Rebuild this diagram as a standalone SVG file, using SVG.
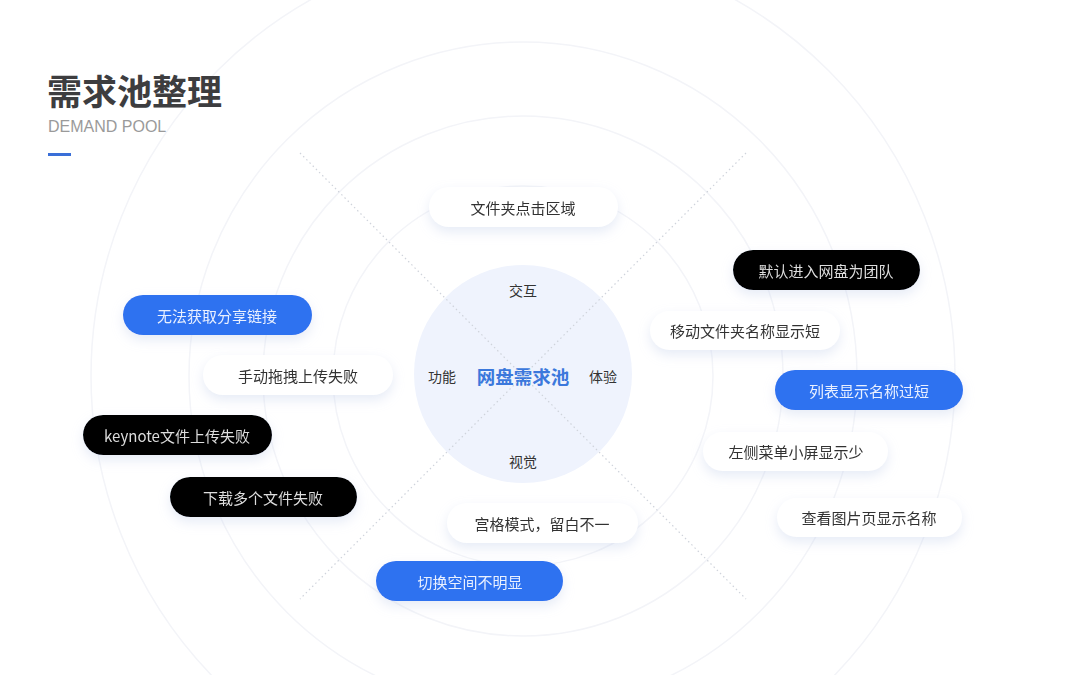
<svg xmlns="http://www.w3.org/2000/svg" width="1080" height="675" viewBox="0 0 1080 675">
<defs>
<filter id="sh" x="-20%" y="-50%" width="140%" height="220%">
<feDropShadow dx="0" dy="5" stdDeviation="6" flood-color="#b9c8e6" flood-opacity="0.35"/>
</filter>
<style>
.ring{fill:none;stroke:#f3f4f8;stroke-width:1.5}
.diag{stroke:#cfd3db;stroke-width:1.2;stroke-dasharray:1.5 3}
.pw{fill:#ffffff}
.pb{fill:#2e72f0}
.pk{fill:#000000}
.t{font-family:"Noto Sans CJK SC","Liberation Sans",sans-serif;font-size:15px;text-anchor:middle;dominant-baseline:central}
.tw{fill:#333333}
.tb{fill:#e9f0ff}
.tk{fill:#dddddd}
.lab{font-family:"Noto Sans CJK SC","Liberation Sans",sans-serif;font-size:14px;fill:#333333;text-anchor:middle;dominant-baseline:central}
</style>
</defs>
<rect width="1080" height="675" fill="#ffffff"/>
<g id="background">
<circle class="ring" cx="523" cy="376" r="190"/>
<circle class="ring" cx="523" cy="376" r="260"/>
<circle class="ring" cx="523" cy="376" r="334"/>
<circle class="ring" cx="523" cy="376" r="432"/>
</g>
<g id="title">
<text x="47" y="105" font-family="Noto Sans CJK SC,Liberation Sans,sans-serif" font-size="35" font-weight="bold" fill="#3d3d3f">需求池整理</text>
<text x="48" y="132" font-family="Liberation Sans,Arial,sans-serif" font-size="16" fill="#9a9a9a">DEMAND POOL</text>
<rect x="48" y="153" width="23" height="3" fill="#3a6fd8"/>
</g>
<g id="hub">
<circle cx="523" cy="374" r="109" fill="#eff3fd"/>
<text class="lab" x="523" y="290">交互</text>
<text class="lab" x="442" y="376">功能</text>
<text class="lab" x="603" y="376">体验</text>
<text class="lab" x="523" y="461">视觉</text>
<text x="523" y="376" font-family="Noto Sans CJK SC,Liberation Sans,sans-serif" font-size="18.5" font-weight="bold" fill="#3b78dc" text-anchor="middle" dominant-baseline="central">网盘需求池</text>
</g>
<g id="connectors">
<line class="diag" x1="300" y1="153" x2="746" y2="599"/>
<line class="diag" x1="746" y1="153" x2="300" y2="599"/>
</g>
<g id="n1" filter="url(#sh)"><rect class="pw" x="429" y="187" width="189" height="40" rx="20"/><text class="t tw" x="523" y="207">文件夹点击区域</text></g>
<g id="n2" filter="url(#sh)"><rect class="pk" x="733" y="250" width="187" height="40" rx="20"/><text class="t tk" x="826" y="270">默认进入网盘为团队</text></g>
<g id="n3" filter="url(#sh)"><rect class="pw" x="650" y="311" width="190" height="39" rx="19.5"/><text class="t tw" x="745" y="330">移动文件夹名称显示短</text></g>
<g id="n4" filter="url(#sh)"><rect class="pb" x="775" y="370" width="188" height="40" rx="20"/><text class="t tb" x="869" y="390">列表显示名称过短</text></g>
<g id="n5" filter="url(#sh)"><rect class="pw" x="703" y="432" width="185" height="39" rx="19.5"/><text class="t tw" x="796" y="451">左侧菜单小屏显示少</text></g>
<g id="n6" filter="url(#sh)"><rect class="pw" x="777" y="498" width="185" height="39" rx="19.5"/><text class="t tw" x="869" y="517">查看图片页显示名称</text></g>
<g id="n7" filter="url(#sh)"><rect class="pb" x="123" y="295" width="189" height="40" rx="20"/><text class="t tb" x="217" y="315">无法获取分享链接</text></g>
<g id="n8" filter="url(#sh)"><rect class="pw" x="203" y="355" width="190" height="40" rx="20"/><text class="t tw" x="298" y="375">手动拖拽上传失败</text></g>
<g id="n9" filter="url(#sh)"><rect class="pk" x="83" y="415" width="189" height="40" rx="20"/><text class="t tk" x="177" y="435">keynote文件上传失败</text></g>
<g id="n10" filter="url(#sh)"><rect class="pk" x="170" y="477" width="187" height="40" rx="20"/><text class="t tk" x="263" y="497">下载多个文件失败</text></g>
<g id="n11" filter="url(#sh)"><rect class="pw" x="447" y="503" width="191" height="40" rx="20"/><text class="t tw" x="542" y="523">宫格模式，留白不一</text></g>
<g id="n12" filter="url(#sh)"><rect class="pb" x="376" y="561" width="187" height="40" rx="20"/><text class="t tb" x="470" y="581">切换空间不明显</text></g>
</svg>
